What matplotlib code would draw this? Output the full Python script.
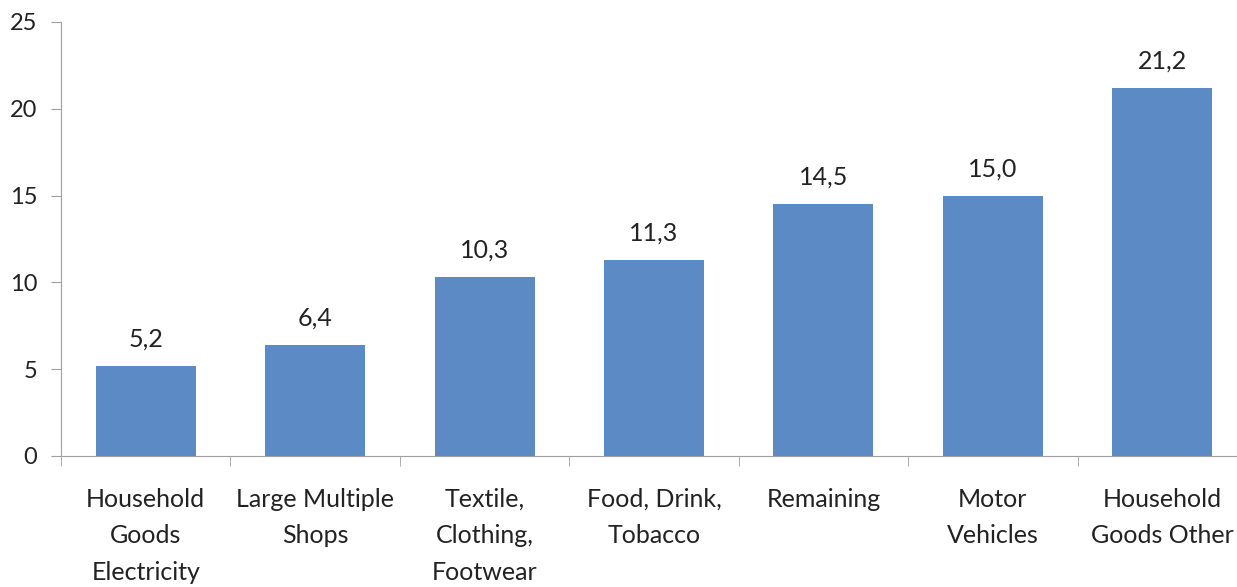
import numpy as np
import matplotlib.pyplot as plt

categories = ['Household\nGoods\nElectricity', 'Large Multiple\nShops', 'Textile,\nClothing,\nFootwear',
              'Food, Drink,\nTobacco', 'Remaining', 'Motor\nVehicles', 'Household\nGoods Other']
values = [5.2, 6.4, 10.3, 11.3, 14.5, 15.0, 21.2]

plt.rcParams['font.family'] = ['Lato', 'DejaVu Sans']
fig = plt.figure(figsize=(12.37, 5.87), dpi=100)
W, H = 1237, 587
ax = fig.add_axes([61 / W, 131 / H, 1186 / W, 434 / H])

x = np.arange(len(categories))
ax.bar(x, values, width=0.59, color='#5B8AC4')
for xi, v in zip(x, values):
    ax.annotate(f'{v:.1f}'.replace('.', ','), (xi, v), xytext=(0, 11), textcoords='offset points',
                ha='center', va='bottom', fontsize=18, color='#222222')

ax.set_xlim(-0.5, len(categories) - 0.5)
ax.set_ylim(0, 25)
ax.set_yticks(range(0, 26, 5))
ax.set_xticks(x)
ax.set_xticklabels(categories, fontsize=18, linespacing=1.7, color='#222222')
ax.set_xticks(np.arange(-0.5, len(categories)), minor=True)
ax.tick_params(axis='x', which='major', length=0, pad=23)
ax.tick_params(axis='x', which='minor', length=7, color='#a0a0a0', direction='out')
ax.tick_params(axis='y', length=7, color='#a0a0a0', labelsize=17, labelcolor='#222222', pad=10)

for s in ['top', 'right']:
    ax.spines[s].set_visible(False)
for s in ['left', 'bottom']:
    ax.spines[s].set_color('#a0a0a0')

fig.savefig('out.png', dpi=100)
